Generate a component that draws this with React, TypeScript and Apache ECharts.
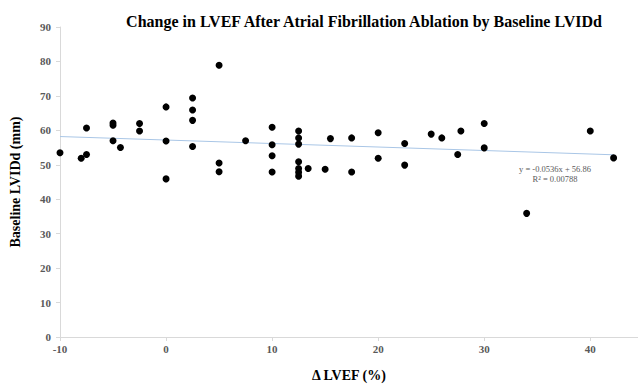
import React, { useEffect, useRef } from "react";
import * as echarts from "echarts";

const deltaLVEF = [
  -10, -8, -7.5, -7.5, -5, -5, -5, -4.3, -2.5, -2.5,
  0, 0, 0, 2.5, 2.5, 2.5, 2.5, 5, 5, 5,
  7.5, 10, 10, 10, 10, 12.5, 12.5, 12.5, 12.5, 12.5,
  12.5, 12.5, 13.4, 15, 15.5, 17.5, 17.5, 20, 20, 22.5,
  22.5, 25, 26, 27.5, 27.8, 30, 30, 34, 40, 42.2,
];
const baselineLVIDd = [
  53.5, 51.9, 53, 60.7, 62.1, 61.5, 57, 55, 62, 59.8,
  66.8, 56.9, 45.9, 69.4, 65.9, 62.9, 55.3, 78.9, 50.5, 48,
  57, 60.9, 55.8, 52.6, 47.9, 59.8, 57.8, 56, 50.9, 48.9,
  47.8, 46.7, 48.9, 48.7, 57.6, 57.8, 47.9, 59.3, 51.9, 56.2,
  49.9, 58.9, 57.8, 53, 59.8, 62, 54.9, 35.9, 59.8, 52,
];
const trendX = [-10, 42.2];
const trendY = [58.2, 52.9];
const trendLabel = ["y = -0.0536x + 56.86", "R² = 0.00788"];
const titleText = "Change in LVEF After Atrial Fibrillation Ablation by Baseline LVIDd";
const xName = "Δ LVEF (%)";
const yName = "Baseline LVIDd (mm)";

const FONT = "'Liberation Serif', 'DejaVu Serif', serif";

export default function App() {
  const ref = useRef<HTMLDivElement>(null);
  useEffect(() => {
    if (!ref.current) return;
    const chart = echarts.init(ref.current, null, { renderer: "svg" });
    const points = deltaLVEF.map((x, i) => [x, baselineLVIDd[i]]);
    const trend = trendX.map((x, i) => [x, trendY[i]]);
    chart.setOption({
      animation: false,
      backgroundColor: "#ffffff",
      textStyle: { fontFamily: FONT },
      title: {
        text: titleText,
        left: 359,
        top: 8,
        textAlign: "center",
        textStyle: { fontFamily: FONT, fontWeight: "bold", fontSize: 16, color: "#000" },
      },
      grid: { left: 57, right: 0, top: 27, bottom: 45 },
      xAxis: {
        type: "value",
        min: -10,
        max: 44.5,
        interval: 10,
        name: xName,
        nameLocation: "middle",
        nameGap: 31,
        nameTextStyle: { fontFamily: FONT, fontWeight: "bold", fontSize: 14, color: "#000" },
        splitLine: { show: false },
        axisLine: { show: true, onZero: false, lineStyle: { color: "#d9d9d9", width: 1 } },
        axisTick: { show: true, length: 4, lineStyle: { color: "#d9d9d9" } },
        axisLabel: {
          fontFamily: FONT,
          fontWeight: "bold",
          fontSize: 11,
          color: "#595959",
          margin: 6,
          showMaxLabel: false,
          formatter: (v: number) => (v % 10 === 0 ? String(v) : ""),
        },
      },
      yAxis: {
        type: "value",
        min: 0,
        max: 90,
        interval: 10,
        name: yName,
        nameLocation: "middle",
        nameRotate: 90,
        nameGap: 38,
        nameTextStyle: { fontFamily: FONT, fontWeight: "bold", fontSize: 14, color: "#000" },
        splitLine: { show: false },
        axisLine: { show: true, onZero: false, lineStyle: { color: "#d9d9d9", width: 1 } },
        axisTick: { show: true, length: 4, lineStyle: { color: "#d9d9d9" } },
        axisLabel: {
          fontFamily: FONT,
          fontWeight: "bold",
          fontSize: 11,
          color: "#595959",
          margin: 9,
        },
      },
      graphic: [
        {
          type: "text",
          x: 555,
          y: 169,
          style: {
            text: trendLabel[0],
            fontFamily: FONT,
            fontSize: 8.5,
            fill: "#595959",
            align: "center",
            verticalAlign: "middle",
          },
        },
        {
          type: "text",
          x: 555,
          y: 178.5,
          style: {
            text: trendLabel[1],
            fontFamily: FONT,
            fontSize: 8.5,
            fill: "#595959",
            align: "center",
            verticalAlign: "middle",
          },
        },
      ],
      series: [
        {
          type: "line",
          data: trend,
          symbol: "none",
          lineStyle: { color: "#a9c6e6", width: 1 },
          z: 1,
        },
        {
          type: "scatter",
          data: points,
          symbol: "circle",
          symbolSize: 7,
          itemStyle: { color: "#000", opacity: 1 },
          z: 3,
        },
      ],
    });
    return () => chart.dispose();
  }, []);
  return (
    <div
      ref={ref}
      style={{ position: "fixed", left: 0, top: 0, width: 638, height: 387 }}
    />
  );
}
